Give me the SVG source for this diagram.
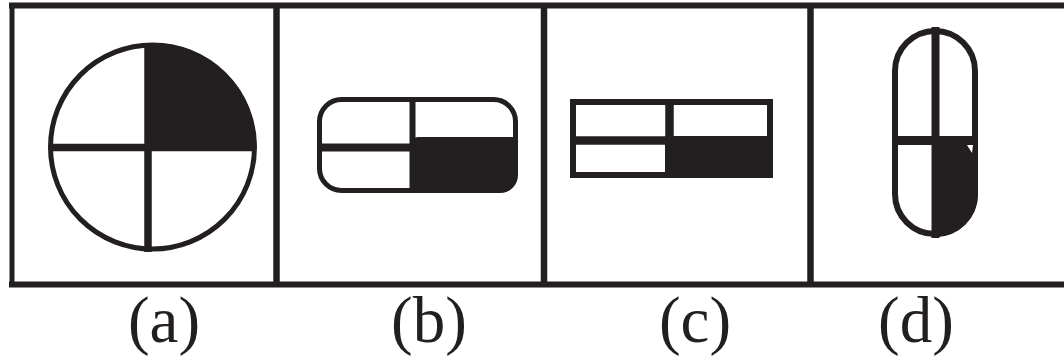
<svg xmlns="http://www.w3.org/2000/svg" width="1064" height="361" viewBox="0 0 1064 361">
<style>
.ln{stroke:#231f20;fill:none}
.fl{fill:#231f20;stroke:none}
.lbl{font-family:"Liberation Serif","Times New Roman",serif;font-size:65px;fill:#231f20;text-anchor:middle}
</style>
<rect width="1064" height="361" fill="#fff"/>
<g id="frame">
<line class="ln" x1="9" y1="5.5" x2="1064" y2="5.5" stroke-width="6"/>
<line class="ln" x1="9" y1="284.5" x2="1064" y2="284.5" stroke-width="6"/>
<line class="ln" x1="12" y1="3" x2="12" y2="287" stroke-width="5"/>
<line class="ln" x1="276.5" y1="3" x2="276.5" y2="287" stroke-width="6.5"/>
<line class="ln" x1="544" y1="3" x2="544" y2="287" stroke-width="6.5"/>
<line class="ln" x1="810.5" y1="3" x2="810.5" y2="287" stroke-width="6.5"/>
</g>
<g id="fig-a">
<path class="fl" d="M146,147 L146,43.2 A104,104 0 0 1 256.5,147 Z"/>
<circle class="ln" cx="152.5" cy="147" r="102" stroke-width="5"/>
<line class="ln" x1="50" y1="147.5" x2="255" y2="147.5" stroke-width="7.5"/>
<line class="ln" x1="148" y1="43" x2="148" y2="252" stroke-width="7.5"/>
</g>
<g id="fig-b">
<path class="fl" d="M412,143 Q412,137 418,137 H512 Q518,137 518,143 V175 A18,18 0 0 1 500,193 H412 Z"/>
<rect class="ln" x="319.5" y="99.5" width="196" height="91" rx="22" stroke-width="5"/>
<line class="ln" x1="317" y1="147.5" x2="412" y2="147.5" stroke-width="8"/>
<line class="ln" x1="412.5" y1="98" x2="412.5" y2="193" stroke-width="6"/>
</g>
<g id="fig-c">
<rect class="fl" x="665" y="136" width="108" height="42"/>
<rect class="ln" x="573" y="102" width="197" height="73" stroke-width="6"/>
<line class="ln" x1="570" y1="140.5" x2="670" y2="140.5" stroke-width="8.5"/>
<line class="ln" x1="669.5" y1="99" x2="669.5" y2="141" stroke-width="8.5"/>
</g>
<g id="fig-d">
<path class="fl" d="M935,136 H978 V194 A43,43 0 0 1 935,237 Z"/>
<rect class="ln" x="895" y="31" width="80" height="203" rx="40" stroke-width="6"/>
<line class="ln" x1="895" y1="140.5" x2="975" y2="140.5" stroke-width="9"/>
<line class="ln" x1="935.5" y1="27" x2="935.5" y2="238" stroke-width="8"/>
<polygon points="967,145 973,145 972,153" fill="#fff"/>
</g>
<g id="labels">
<text class="lbl" x="164" y="342">(a)</text>
<text class="lbl" x="429" y="342">(b)</text>
<text class="lbl" x="695" y="342">(c)</text>
<text class="lbl" x="916" y="342">(d)</text>
</g>
</svg>
